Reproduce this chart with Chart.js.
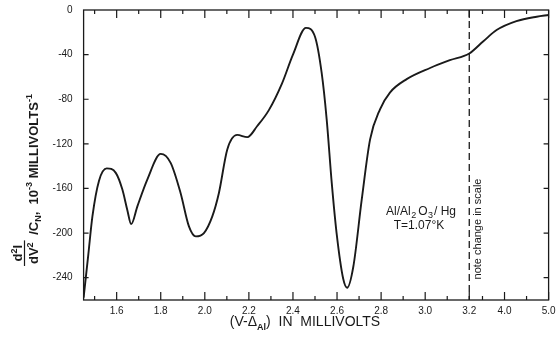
<!DOCTYPE html>
<html>
<head>
<meta charset="utf-8">
<script src="https://cdn.jsdelivr.net/npm/chart.js@4/dist/chart.umd.min.js"></script>
<style>
  html, body { margin: 0; padding: 0; background: #fff; }
  canvas { display: block; }
</style>
</head>
<body>
<canvas id="myChart" width="557" height="339"></canvas>
<script>
// values (mV, 10^-3 mV^-1)
var voltage = [1.45, 1.471, 1.49, 1.52, 1.555, 1.596, 1.626, 1.648, 1.666, 1.694, 1.739,
    1.80, 1.845, 1.89, 1.928, 1.959, 1.996, 2.034, 2.064, 2.102, 2.147,
    2.193, 2.238, 2.29, 2.35, 2.40, 2.459, 2.50, 2.53, 2.553, 2.576, 2.598,
    2.628, 2.646, 2.674, 2.712, 2.75, 2.795, 2.84, 2.916, 3.022, 3.112,
    3.2, 3.52, 3.82, 4.27, 4.73, 5.0];
var d2I = [-258, -220, -185, -153, -142, -146, -161, -179, -192, -176, -152,
    -129, -137, -164, -194, -203, -200, -185, -164, -125, -112,
    -114, -104, -90, -66, -40, -16, -24, -56, -98, -155, -200,
    -241, -249, -230, -170, -116, -89, -74, -62, -52, -45,
    -39, -28, -18, -10, -6, -4.5];

var xMajor = [1.6, 1.8, 2.0, 2.2, 2.4, 2.6, 2.8, 3.0, 3.2, 4.0, 5.0];
var xLabels = ['1.6', '1.8', '2.0', '2.2', '2.4', '2.6', '2.8', '3.0', '3.2', '4.0', '5.0'];
var xMinor = [1.5, 1.7, 1.9, 2.1, 2.3, 2.5, 2.7, 2.9, 3.1, 3.5, 4.5];
var yTicks = [-240, -200, -160, -120, -80, -40, 0];

var BREAK = 3.2;   // scale changes here
var SQUEEZE = 5;   // 5x compressed beyond the break

function toAxis(v) {
    return v <= BREAK ? v : BREAK + (v - BREAK) / SQUEEZE;
}

var pts = voltage.map(function (v, i) {
    return { x: toAxis(v), y: d2I[i] };
});

function drawRuns(ctx, runs, x, y) {
    runs.forEach(function (r) {
        ctx.font = r.font;
        ctx.fillText(r.t, x, y + (r.dy || 0));
        x += ctx.measureText(r.t).width + (r.gap || 0);
    });
}
function runsWidth(ctx, runs) {
    var w = 0;
    runs.forEach(function (r) {
        ctx.font = r.font;
        w += ctx.measureText(r.t).width + (r.gap || 0);
    });
    return w;
}

var FONT = '"Liberation Sans", Arial, sans-serif';
var INK = '#1a1a1a';

var decor = {
    id: 'decor',
    afterDraw: function (chart) {
        var ctx = chart.ctx, a = chart.chartArea;
        var xs = chart.scales.x, ys = chart.scales.y;
        ctx.save();
        ctx.strokeStyle = INK;
        ctx.fillStyle = INK;

        // frame
        ctx.lineWidth = 1.3;
        ctx.strokeRect(a.left, a.top, a.right - a.left, a.bottom - a.top);

        // inward ticks
        ctx.lineWidth = 1.2;
        ctx.beginPath();
        function xt(v, len) {
            var px = xs.getPixelForValue(toAxis(v));
            ctx.moveTo(px, a.bottom); ctx.lineTo(px, a.bottom - len);
            ctx.moveTo(px, a.top); ctx.lineTo(px, a.top + len);
        }
        xMajor.forEach(function (v) { xt(v, 8); });
        xMinor.forEach(function (v) { xt(v, 4); });
        yTicks.forEach(function (v) {
            if (v === 0) return;
            var py = ys.getPixelForValue(v);
            ctx.moveTo(a.left, py); ctx.lineTo(a.left + 5, py);
            ctx.moveTo(a.right, py); ctx.lineTo(a.right - 5, py);
        });
        ctx.stroke();

        // dashed line at the change of scale
        var bx = xs.getPixelForValue(toAxis(BREAK));
        ctx.setLineDash([7, 4]);
        ctx.lineWidth = 1.3;
        ctx.beginPath();
        ctx.moveTo(bx, a.top); ctx.lineTo(bx, a.bottom);
        ctx.stroke();
        ctx.setLineDash([]);

        ctx.textBaseline = 'alphabetic';
        ctx.textAlign = 'left';

        // note change in scale
        ctx.save();
        ctx.translate(bx + 12, 229);
        ctx.rotate(-Math.PI / 2);
        ctx.font = '11px ' + FONT;
        ctx.textAlign = 'center';
        ctx.fillText('note change in scale', 0, 0);
        ctx.restore();

        // sample label
        var big = '12px ' + FONT, sub = '9px ' + FONT;
        var r1 = [
            { t: 'Al/Al', font: big, gap: 0.5 },
            { t: '2', font: sub, dy: 3, gap: 2 },
            { t: 'O', font: big, gap: 0.5 },
            { t: '3', font: sub, dy: 3, gap: 1 },
            { t: '/ Hg', font: big }
        ];
        drawRuns(ctx, r1, 421 - runsWidth(ctx, r1) / 2, 215);
        var r2 = [{ t: 'T=1.07°K', font: big }];
        drawRuns(ctx, r2, 419 - runsWidth(ctx, r2) / 2, 229);

        // x title
        var tf = '14px ' + FONT, tsub = 'bold 9px ' + FONT;
        var rx = [
            { t: '(V-Δ', font: tf },
            { t: 'Al', font: tsub, dy: 4 },
            { t: ')  IN  MILLIVOLTS', font: tf }
        ];
        drawRuns(ctx, rx, 305 - runsWidth(ctx, rx) / 2, 326);

        // y title, rotated
        ctx.save();
        ctx.translate(38, 266);
        ctx.rotate(-Math.PI / 2);
        var yf = 'bold 13px ' + FONT, ys2 = 'bold 9px ' + FONT;
        var num = [{ t: 'd', font: yf }, { t: '2', font: ys2, dy: -5 }, { t: 'I', font: yf }];
        var den = [{ t: 'dV', font: yf }, { t: '2', font: ys2, dy: -5 }];
        var fw = Math.max(runsWidth(ctx, num), runsWidth(ctx, den)) + 4;
        drawRuns(ctx, num, (fw - runsWidth(ctx, num)) / 2, -16);
        drawRuns(ctx, den, (fw - runsWidth(ctx, den)) / 2, 0);
        ctx.lineWidth = 1.2;
        ctx.beginPath();
        ctx.moveTo(0, -13.5); ctx.lineTo(fw, -13.5);
        ctx.stroke();
        drawRuns(ctx, [
            { t: ' /C', font: yf },
            { t: 'N', font: ys2, dy: 3 },
            { t: ',  10', font: yf },
            { t: '-3', font: ys2, dy: -6 },
            { t: ' MILLIVOLTS', font: yf },
            { t: '-1', font: ys2, dy: -6 }
        ], fw + 2, 0);
        ctx.restore();

        ctx.restore();
    }
};

var ctx = document.getElementById('myChart');
var xx = new Chart(ctx, {
    type: 'scatter',
    data: {
        datasets: [{
            data: pts,
            showLine: true,
            borderColor: INK,
            borderWidth: 1.9,
            pointRadius: 0,
            fill: false,
            cubicInterpolationMode: 'monotone'
        }]
    },
    options: {
        responsive: false,
        animation: false,
        devicePixelRatio: 1,
        layout: { padding: { left: 0, right: 8.4, top: 10, bottom: 0 } },
        plugins: { legend: { display: false }, tooltip: { enabled: false } },
        scales: {
            x: {
                type: 'linear',
                min: toAxis(1.45),
                max: toAxis(5.0),
                grid: { display: false, drawTicks: false },
                border: { display: false },
                afterBuildTicks: function (s) {
                    s.ticks = xMajor.map(function (v) { return { value: toAxis(v) }; });
                },
                afterFit: function (s) {
                    s.height = 39;
                    s.paddingLeft = 0; s.paddingRight = 0;
                },
                ticks: {
                    autoSkip: false,
                    maxRotation: 0,
                    padding: 5,
                    color: INK,
                    font: { family: FONT, size: 10 },
                    callback: function (value, index) { return xLabels[index]; }
                }
            },
            y: {
                min: -260,
                max: 0,
                grid: { display: false, drawTicks: false },
                border: { display: false },
                afterBuildTicks: function (s) {
                    s.ticks = yTicks.map(function (v) { return { value: v }; });
                },
                afterFit: function (s) {
                    s.width = 83.6;
                    s.paddingTop = 0; s.paddingBottom = 0;
                },
                ticks: {
                    padding: 11,
                    color: INK,
                    font: { family: FONT, size: 10 }
                }
            }
        }
    },
    plugins: [decor]
});
</script>
</body>
</html>
